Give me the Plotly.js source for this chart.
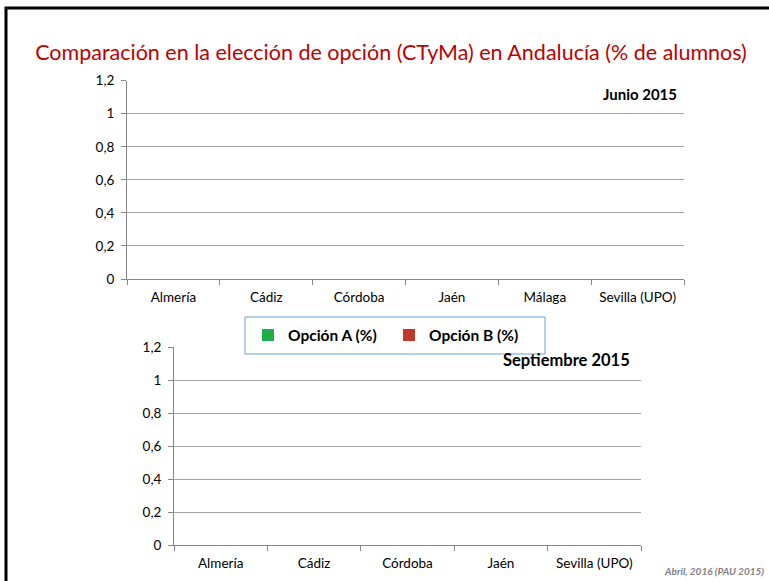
<!DOCTYPE html>
<html>
<head>
<meta charset="utf-8">
<script src="https://cdn.plot.ly/plotly-3.0.1.min.js"></script>
<style>html,body{margin:0;padding:0;background:#fff;}#chart{width:769px;height:581px;}</style>
</head>
<body>
<div id="chart"></div>
<script>
// Data (no bars are visible in the reference: all values read as 0)
const categoriesJunio = ["Almería", "Cádiz", "Córdoba", "Jaén", "Málaga", "Sevilla (UPO)"];
const opcionAJunio = [0, 0, 0, 0, 0, 0];
const opcionBJunio = [0, 0, 0, 0, 0, 0];
const categoriesSept = ["Almería", "Cádiz", "Córdoba", "Jaén", "Sevilla (UPO)"];
const opcionASept = [0, 0, 0, 0, 0];
const opcionBSept = [0, 0, 0, 0, 0];
const seriesNames = ["Opción A (%)", "Opción B (%)"];
const yTicks = [0, 0.2, 0.4, 0.6, 0.8, 1, 1.2];

const W = 769, H = 581;
const px = v => v / W;
const py = v => 1 - v / H;
const FONT = "Lato, 'Liberation Sans', sans-serif";
const green = "#1fae4b", red = "#c0392b";

const traces = [
  {type: "bar", name: seriesNames[0], x: categoriesJunio, y: opcionAJunio, marker: {color: green}, xaxis: "x", yaxis: "y", legendgroup: "a"},
  {type: "bar", name: seriesNames[1], x: categoriesJunio, y: opcionBJunio, marker: {color: red}, xaxis: "x", yaxis: "y", legendgroup: "b"},
  {type: "bar", name: seriesNames[0], x: categoriesSept, y: opcionASept, marker: {color: green}, xaxis: "x2", yaxis: "y2", showlegend: false, legendgroup: "a"},
  {type: "bar", name: seriesNames[1], x: categoriesSept, y: opcionBSept, marker: {color: red}, xaxis: "x2", yaxis: "y2", showlegend: false, legendgroup: "b"}
];

const xCommon = {
  type: "category", showline: true, linecolor: "#868686", linewidth: 1,
  ticks: "outside", ticklen: 5, tickcolor: "#868686", tickson: "boundaries",
  ticklabelstandoff: 6,
  showgrid: false, zeroline: false, fixedrange: true,
  tickfont: {family: FONT, size: 13.5, color: "#000"}
};
const yCommon = {
  range: [0, 1.2], tickvals: yTicks, showline: true, linecolor: "#868686", linewidth: 1,
  ticks: "outside", ticklen: 5, tickcolor: "#868686",
  ticklabelstandoff: 4,
  showgrid: true, gridcolor: "#a6a6a6", gridwidth: 1, zeroline: false, fixedrange: true,
  tickfont: {family: FONT, size: 13.5, color: "#000"}
};

const layout = {
  width: W, height: H,
  margin: {l: 0, r: 0, t: 0, b: 0},
  paper_bgcolor: "#fff", plot_bgcolor: "rgba(0,0,0,0)",
  separators: ",.",
  barmode: "group",
  font: {family: FONT, color: "#000"},
  title: {
    text: "Comparación en la elección de opción (CTyMa) en Andalucía (% de alumnos)",
    font: {family: FONT, size: 21.5, color: "#c00000"},
    x: 391 / W, xanchor: "center", y: py(52), yanchor: "middle"
  },
  xaxis: Object.assign({}, xCommon, {domain: [px(127), px(684)], anchor: "y"}),
  yaxis: Object.assign({}, yCommon, {domain: [py(279), py(80.7)], anchor: "x"}),
  xaxis2: Object.assign({}, xCommon, {domain: [px(174), px(641)], anchor: "y2"}),
  yaxis2: Object.assign({}, yCommon, {domain: [py(545), py(347.3)], anchor: "x2"}),
  showlegend: true,
  legend: {
    orientation: "h", x: px(248), xanchor: "left", y: py(335.5), yanchor: "middle",
    bgcolor: "rgba(0,0,0,0)", borderwidth: 0,
    font: {family: FONT, size: 15.5, color: "#000", weight: "bold"},
    itemwidth: 30, entrywidth: 96
  },
  shapes: [
    {type: "rect", xref: "paper", yref: "paper", x0: px(6), x1: px(775), y0: py(590), y1: py(8),
      line: {color: "#000", width: 3}, fillcolor: "rgba(0,0,0,0)", layer: "above"},
    {type: "rect", xref: "paper", yref: "paper", x0: px(245), x1: px(545), y0: py(354), y1: py(317),
      line: {color: "#6f9fd8", width: 1}, fillcolor: "rgba(0,0,0,0)"}
  ],
  annotations: [
    {text: "<b>Junio 2015</b>", xref: "paper", yref: "paper", x: px(679), y: py(94),
      xanchor: "right", yanchor: "middle", showarrow: false, font: {family: FONT, size: 15, color: "#000"}},
    {text: "<b>Septiembre 2015</b>", xref: "paper", yref: "paper", x: px(632), y: py(360),
      xanchor: "right", yanchor: "middle", showarrow: false, font: {family: FONT, size: 16.5, color: "#000"}},
    {text: "<b><i>Abril, 2016 (PAU 2015)</i></b>", xref: "paper", yref: "paper", x: px(766), y: py(571),
      xanchor: "right", yanchor: "middle", showarrow: false, font: {family: FONT, size: 10, color: "#7f7f7f"}}
  ]
};

Plotly.newPlot("chart", traces, layout, {displayModeBar: false, staticPlot: true});
</script>
</body>
</html>
